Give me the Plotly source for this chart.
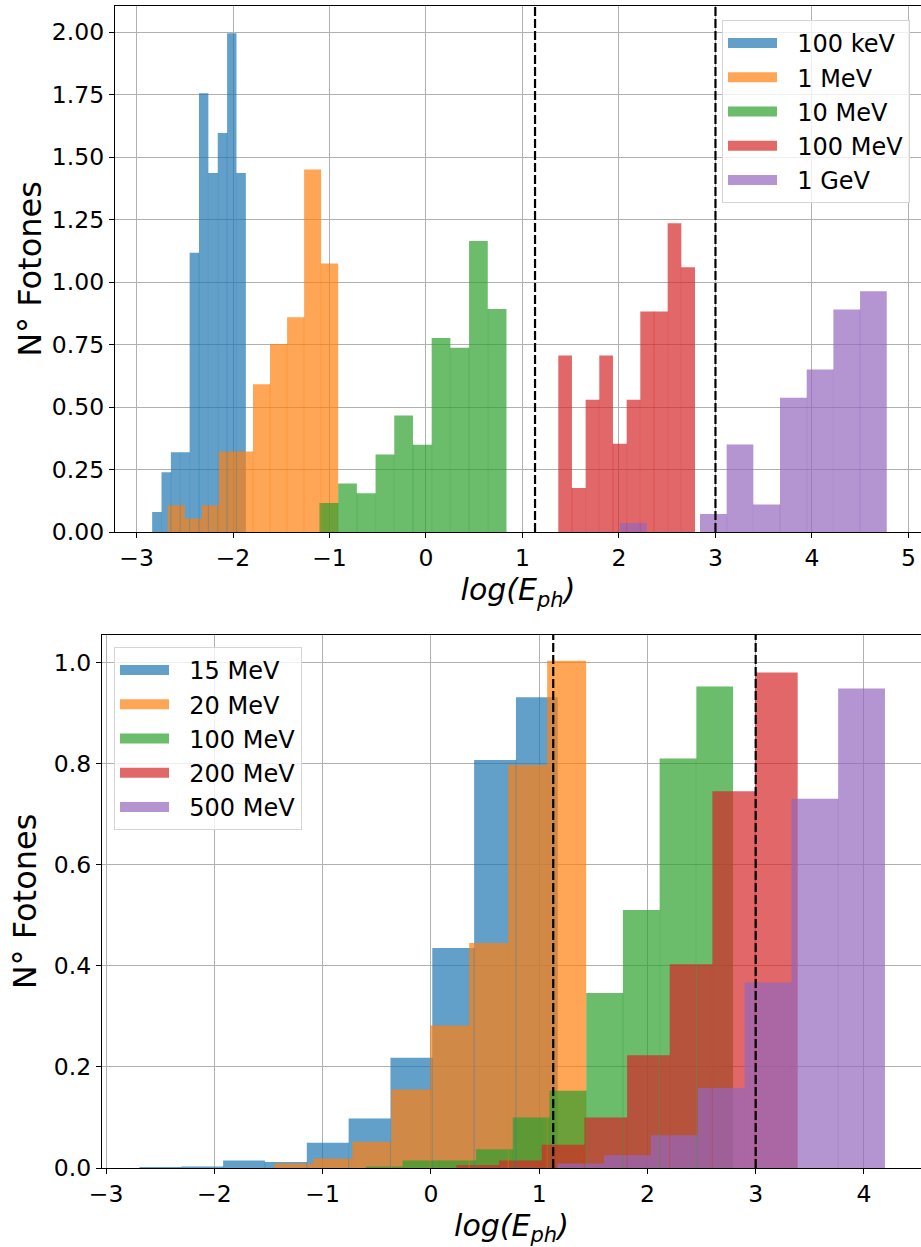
import numpy as np
import plotly.graph_objects as go

# ---------------- data ----------------
# upper panel: normalised photon-energy histograms (log10 E_ph), one per primary energy
top_labels = ["100 keV", "1 MeV", "10 MeV", "100 MeV", "1 GeV"]
top_bin_start = [-2.838, -2.676, -1.104, 1.371, 2.010]
top_bin_width = [0.0971, 0.1766, 0.1938, 0.1417, 0.2765]
top_100keV = [0.080, 0.239, 0.319, 0.319, 1.117, 1.755, 1.436, 1.596, 1.995, 1.436]
top_1MeV = [0.107, 0.054, 0.107, 0.322, 0.322, 0.591, 0.752, 0.859, 1.450, 1.074]
top_10MeV = [0.116, 0.194, 0.155, 0.310, 0.466, 0.349, 0.776, 0.737, 1.164, 0.892]
top_100MeV = [0.706, 0.176, 0.529, 0.706, 0.353, 0.529, 0.882, 0.882, 1.235, 1.059]
top_1GeV = [0.036, 0.0, 0.0, 0.072, 0.350, 0.110, 0.537, 0.650, 0.890, 0.963]
top_heights = [top_100keV, top_1MeV, top_10MeV, top_100MeV, top_1GeV]

# lower panel
bot_labels = ["15 MeV", "20 MeV", "100 MeV", "200 MeV", "500 MeV"]
bot_bin_start = [-2.692, -1.446, -0.600, 0.236, 1.168]
bot_bin_width = [0.3864, 0.3600, 0.3391, 0.3940, 0.4323]
bot_15MeV = [0.002, 0.003, 0.015, 0.012, 0.050, 0.098, 0.218, 0.435, 0.807, 0.931]
bot_20MeV = [0.009, 0.019, 0.052, 0.155, 0.282, 0.445, 0.797, 1.003]
bot_100MeV = [0.003, 0.015, 0.015, 0.037, 0.100, 0.153, 0.346, 0.510, 0.810, 0.952]
bot_200MeV = [0.006, 0.015, 0.046, 0.100, 0.223, 0.403, 0.745, 0.980]
bot_500MeV = [0.009, 0.025, 0.065, 0.158, 0.367, 0.730, 0.948]
bot_heights = [bot_15MeV, bot_20MeV, bot_100MeV, bot_200MeV, bot_500MeV]

# reference energies marked with dashed lines (log10)
ref_lines = [1.13, 3.0]

# ---------------- style ----------------
palette = [(31, 119, 180), (255, 127, 14), (44, 160, 44), (214, 39, 40), (148, 103, 189)]
ALPHA = 0.7
FONT = "DejaVu Sans"
W, H = 921, 1247
PAD = "\u00a0\u00a0"  # gap between legend patch and its label


def rgba(c, a):
    return f"rgba({c[0]},{c[1]},{c[2]},{a})"


fig = go.Figure()


def add_hist(start, width, heights, color, name, xa, ya, legend, group):
    h = np.asarray(heights, dtype=float)
    edges = start + width * np.arange(len(h) + 1)
    fig.add_trace(go.Bar(
        x=edges[:-1], y=h, width=width, offset=0,
        marker=dict(color=rgba(color, ALPHA), line=dict(width=0)),
        xaxis=xa, yaxis=ya, showlegend=False, name=name,
    ))
    # faint seams where neighbouring bins of the same histogram meet
    sx, sy = [], []
    for i in range(1, len(h)):
        top = min(h[i - 1], h[i])
        if top > 0:
            sx += [edges[i], edges[i], None]
            sy += [0, top, None]
    if sx:
        fig.add_trace(go.Scatter(
            x=sx, y=sy, mode="lines", line=dict(color=rgba(color, 0.4), width=1),
            xaxis=xa, yaxis=ya, showlegend=False, hoverinfo="skip",
        ))
    # legend handle: a wide flat patch
    fig.add_trace(go.Scatter(
        x=[None], y=[None], mode="lines", name=PAD + name,
        line=dict(color=rgba(color, ALPHA), width=17),
        xaxis=xa, yaxis=ya, legend=legend, legendgroup=group, showlegend=True,
    ))


for k in range(5):
    add_hist(top_bin_start[k], top_bin_width[k], top_heights[k], palette[k],
             top_labels[k], "x", "y", "legend", f"t{k}")
for k in range(5):
    add_hist(bot_bin_start[k], bot_bin_width[k], bot_heights[k], palette[k],
             bot_labels[k], "x2", "y2", "legend2", f"b{k}")

for xv in ref_lines:
    for xr, yr in (("x", "y domain"), ("x2", "y2 domain")):
        fig.add_shape(type="line", xref=xr, yref=yr, x0=xv, x1=xv, y0=0, y1=1,
                      line=dict(color="black", width=2.2, dash="9px,3px"), layer="above")

tick_font = dict(family=FONT, size=23.5, color="black")
xtitle_font = dict(family=FONT, size=30, color="black")
ytitle_font = dict(family=FONT, size=32, color="black")
axis_common = dict(
    showgrid=True, gridcolor="#b0b0b0", gridwidth=1, zeroline=False,
    showline=True, linecolor="black", linewidth=1.2,
    ticks="outside", ticklen=5, tickwidth=1.2, tickcolor="black",
    tickfont=tick_font, layer="above traces", automargin=False,
)
xlabel = "<i>log(E<sub>ph</sub>)</i>"
legend_common = dict(
    bgcolor="rgba(255,255,255,0.8)", bordercolor="#d5d5d5", borderwidth=1,
    font=dict(family=FONT, size=24, color="black"),
    traceorder="grouped", tracegroupgap=0, itemwidth=49,
)

fig.update_layout(
    width=W, height=H, margin=dict(l=0, r=0, t=0, b=0, autoexpand=False),
    paper_bgcolor="white", plot_bgcolor="white",
    barmode="overlay", font=dict(family=FONT, color="black"),
    xaxis=dict(axis_common, domain=[115 / W, 1.0], range=[-3.223, 5.130], dtick=1,
               mirror=True, anchor="y",
               title=dict(text=xlabel, font=xtitle_font, standoff=1)),
    yaxis=dict(axis_common, domain=[1 - 532 / H, 1 - 6 / H], range=[0, 2.104],
               dtick=0.25, tickformat=".2f", anchor="x",
               title=dict(text="N° Fotones", font=ytitle_font, standoff=0)),
    xaxis2=dict(axis_common, domain=[102 / W, 1.0], range=[-3.038, 4.527], dtick=1,
                mirror=True, anchor="y2",
                title=dict(text=xlabel, font=xtitle_font, standoff=1)),
    yaxis2=dict(axis_common, domain=[1 - 1168 / H, 1 - 635 / H], range=[0, 1.054],
                dtick=0.2, tickformat=".1f", anchor="x2",
                title=dict(text="N° Fotones", font=ytitle_font, standoff=7)),
    legend=dict(legend_common, x=910 / W, y=1 - 20 / H, xanchor="right", yanchor="top"),
    legend2=dict(legend_common, x=114 / W, y=1 - 647 / H, xanchor="left", yanchor="top"),
)

fig.write_html("out.html")
